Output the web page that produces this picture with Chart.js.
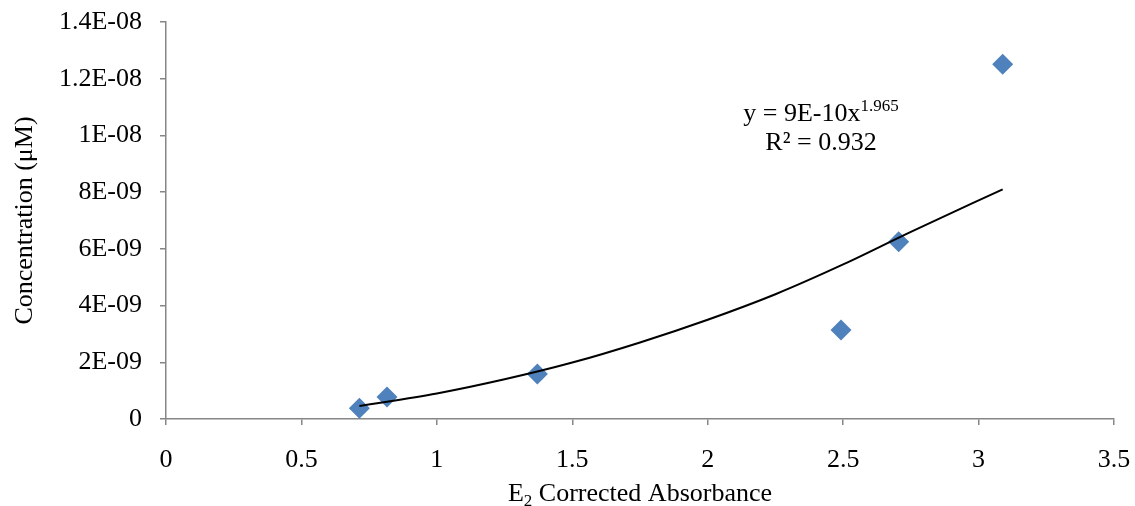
<!DOCTYPE html>
<html>
<head>
<meta charset="utf-8">
<title>Concentration vs E2 Corrected Absorbance</title>
<script src="https://cdn.jsdelivr.net/npm/chart.js@4/dist/chart.umd.min.js"></script>
<style>
  html, body { margin: 0; padding: 0; background: #fff; }
  #wrap { position: relative; width: 1135px; height: 506px; }
</style>
</head>
<body>
<div id="wrap"><canvas id="chart"></canvas></div>
<script>
// measured points
const absorbance = [0.714, 0.816, 1.371, 2.492, 2.705, 3.089];
const concentration = [3.8e-10, 7.8e-10, 1.59e-9, 3.14e-9, 6.25e-9, 1.251e-8];

// power trendline
const trendX = [0.714, 1.0, 1.25, 1.5, 1.75, 2.0, 2.25, 2.5, 2.75, 3.089];
const trendY = [4.6e-10, 9.0e-10, 1.4e-9, 1.99e-9, 2.7e-9, 3.5e-9, 4.4e-9, 5.45e-9, 6.6e-9, 8.1e-9];

const xTickValues = [0, 0.5, 1, 1.5, 2, 2.5, 3, 3.5];
const xTickLabels = ['0', '0.5', '1', '1.5', '2', '2.5', '3', '3.5'];
const yTickValues = [0, 2e-9, 4e-9, 6e-9, 8e-9, 1e-8, 1.2e-8, 1.4e-8];
const yTickLabels = ['0', '2E-09', '4E-09', '6E-09', '8E-09', '1E-08', '1.2E-08', '1.4E-08'];

const serif = "'Liberation Serif', 'Times New Roman', serif";
const axisGrey = '#868686';

// titles + trendline label drawn on the canvas
const textPlugin = {
  id: 'textPlugin',
  afterDraw(chart) {
    const ctx = chart.ctx;
    const area = chart.chartArea;
    ctx.save();
    ctx.fillStyle = '#000';
    ctx.textBaseline = 'alphabetic';

    // y axis title
    ctx.save();
    ctx.translate(32, (area.top + area.bottom) / 2);
    ctx.rotate(-Math.PI / 2);
    ctx.font = '26px ' + serif;
    ctx.textAlign = 'center';
    ctx.fillText('Concentration (μM)', 0, 0);
    ctx.restore();

    // x axis title with subscript
    const big = '26px ' + serif, small = '17px ' + serif;
    ctx.font = big;
    const wE = ctx.measureText('E').width;
    const wRest = ctx.measureText(' Corrected Absorbance').width;
    ctx.font = small;
    const wSub = ctx.measureText('2').width;
    let x = (area.left + area.right) / 2 - (wE + wSub + wRest) / 2;
    const base = 501;
    ctx.textAlign = 'left';
    ctx.font = big;
    ctx.fillText('E', x, base);
    x += wE;
    ctx.font = small;
    ctx.fillText('2', x, base + 5);
    x += wSub;
    ctx.font = big;
    ctx.fillText(' Corrected Absorbance', x, base);

    // equation
    const cx = 821;
    const eqMain = 'y = 9E-10x', eqSup = '1.965';
    ctx.font = '26px ' + serif;
    const wMain = ctx.measureText(eqMain).width;
    ctx.font = '17px ' + serif;
    const wSup = ctx.measureText(eqSup).width;
    let ex = cx - (wMain + wSup) / 2;
    ctx.font = '26px ' + serif;
    ctx.fillText(eqMain, ex, 121);
    ctx.font = '17px ' + serif;
    ctx.fillText(eqSup, ex + wMain, 111);
    ctx.font = '26px ' + serif;
    ctx.textAlign = 'center';
    ctx.fillText('R² = 0.932', cx, 150);
    ctx.restore();
  }
};

const ctx = document.getElementById('chart');
new Chart(ctx, {
  type: 'scatter',
  data: {
    datasets: [
      {
        label: 'Power trendline',
        data: trendX.map((v, i) => ({ x: v, y: trendY[i] })),
        showLine: true,
        borderColor: '#000',
        borderWidth: 2,
        pointRadius: 0,
        cubicInterpolationMode: 'monotone',
        fill: false
      },
      {
        label: 'Concentration',
        data: absorbance.map((v, i) => ({ x: v, y: concentration[i] })),
        pointStyle: 'rectRot',
        pointRadius: 10.5,
        pointHoverRadius: 10.5,
        pointBorderWidth: 0,
        backgroundColor: '#4F81BD',
        borderColor: '#4F81BD'
      }
    ]
  },
  options: {
    responsive: true,
    maintainAspectRatio: false,
    animation: false,
    layout: { padding: { left: 0, top: 22, right: 21, bottom: 0 } },
    plugins: { legend: { display: false }, tooltip: { enabled: false } },
    scales: {
      x: {
        type: 'linear',
        min: 0, max: 3.5,
        afterBuildTicks: s => { s.ticks = xTickValues.map(v => ({ value: v })); },
        afterFit: s => { s.height = 87; s.paddingLeft = 0; s.paddingRight = 0; },
        grid: { drawOnChartArea: false, drawTicks: true, tickLength: 6, color: axisGrey, lineWidth: 1.5 },
        border: { color: axisGrey, width: 1.5 },
        ticks: {
          color: '#000', padding: 20,
          font: { family: serif, size: 26 },
          maxRotation: 0,
          callback: (v, i) => xTickLabels[i]
        }
      },
      y: {
        type: 'linear',
        min: 0, max: 1.4e-8,
        afterBuildTicks: s => { s.ticks = yTickValues.map(v => ({ value: v })); },
        afterFit: s => { s.width = 166; s.paddingTop = 0; s.paddingBottom = 0; },
        grid: { drawOnChartArea: false, drawTicks: true, tickLength: 6, color: axisGrey, lineWidth: 1.5 },
        border: { color: axisGrey, width: 1.5 },
        ticks: {
          color: '#000', padding: 18,
          font: { family: serif, size: 26 },
          callback: (v, i) => yTickLabels[i]
        }
      }
    }
  },
  plugins: [textPlugin]
});
</script>
</body>
</html>
